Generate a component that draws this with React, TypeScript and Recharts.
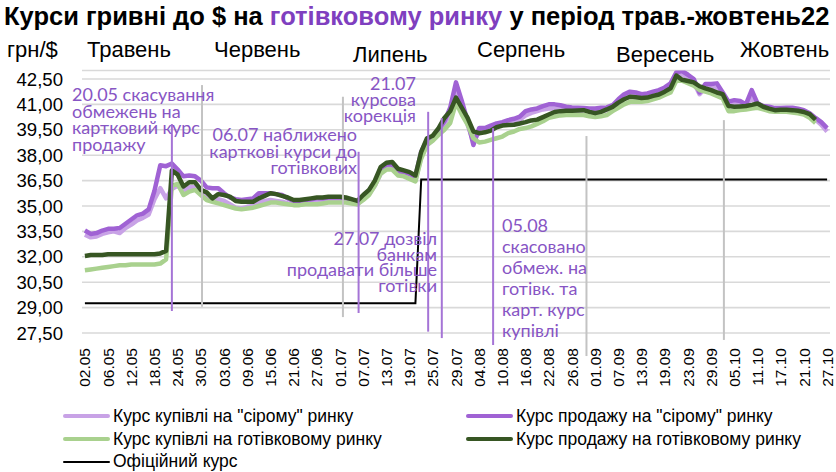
import React from "react";
import { LineChart, Line, XAxis, YAxis, CartesianGrid, ReferenceLine } from "recharts";

// working days, May - Oct 2022
const dates = [
  "02.05", "03.05", "04.05", "05.05", "06.05", "09.05", "10.05", "11.05", "12.05", "13.05",
  "16.05", "17.05", "18.05", "19.05", "20.05", "23.05", "24.05", "25.05", "26.05", "27.05",
  "30.05", "31.05", "01.06", "02.06", "03.06", "06.06", "07.06", "08.06", "09.06", "10.06",
  "13.06", "14.06", "15.06", "16.06", "17.06", "20.06", "21.06", "22.06", "23.06", "24.06",
  "27.06", "28.06", "29.06", "30.06", "01.07", "04.07", "05.07", "06.07", "07.07", "08.07",
  "11.07", "12.07", "13.07", "14.07", "15.07", "18.07", "19.07", "20.07", "21.07", "22.07",
  "25.07", "26.07", "27.07", "28.07", "29.07", "01.08", "02.08", "03.08", "04.08", "05.08",
  "08.08", "09.08", "10.08", "11.08", "12.08", "15.08", "16.08", "17.08", "18.08", "19.08",
  "22.08", "23.08", "24.08", "25.08", "26.08", "29.08", "30.08", "31.08", "01.09", "02.09",
  "05.09", "06.09", "07.09", "08.09", "09.09", "12.09", "13.09", "14.09", "15.09", "16.09",
  "19.09", "20.09", "21.09", "22.09", "23.09", "26.09", "27.09", "28.09", "29.09", "30.09",
  "03.10", "04.10", "05.10", "06.10", "07.10", "10.10", "11.10", "12.10", "13.10", "14.10",
  "17.10", "18.10", "19.10", "20.10", "21.10", "24.10", "25.10", "26.10", "27.10",
];

const tickDates = [
  "02.05", "06.05", "12.05", "18.05", "24.05", "30.05", "03.06", "09.06", "15.06", "21.06", "27.06",
  "01.07", "07.07", "13.07", "19.07", "25.07", "29.07", "04.08", "10.08", "16.08", "22.08", "26.08",
  "01.09", "07.09", "13.09", "19.09", "23.09", "29.09", "05.10", "11.10", "17.10", "21.10", "27.10",
];

const yTicks = [27.5, 29, 30.5, 32, 33.5, 35, 36.5, 38, 39.5, 41, 42.5];

// курс купівлі на "сірому" ринку
const greyBuy = [
  33.3, 33.15, 33.2, 33.35, 33.45, 33.5, 33.4, 33.7, 33.9, 34.15,
  34.3, 34.5, 35.4, 36.05, 35.45, 36.0, 36.2, 35.9, 36.1, 36.1,
  35.9, 35.4, 35.3, 35.4, 35.3, 35.1, 34.9, 34.85, 34.95, 35.0,
  35.2, 35.3, 35.35, 35.3, 35.25, 35.15, 35.1, 35.1, 35.15, 35.2,
  35.2, 35.25, 35.3, 35.3, 35.3, 35.3, 35.2, 35.1, 35.4, 35.7,
  36.2, 36.9, 37.25, 37.3, 36.9, 36.85, 36.7, 36.5, 37.9, 38.6,
  38.9, 39.3, 39.8, 40.5, 42.0, 41.0, 39.8, 38.8, 39.4, 39.45,
  39.6, 39.75, 39.85, 39.95, 40.0, 40.1, 40.35, 40.5, 40.6, 40.7,
  40.75, 40.76, 40.75, 40.7, 40.66, 40.66, 40.66, 40.6, 40.55, 40.6,
  40.65, 40.8, 41.1, 41.4, 41.6, 41.55, 41.5, 41.5, 41.6, 41.7,
  41.85, 42.05, 42.7, 42.8, 42.55, 42.3, 41.6, 42.0, 42.0, 41.95,
  41.5, 41.0, 41.0, 41.0, 40.9, 41.4, 40.95, 40.8, 40.75, 40.7,
  40.7, 40.7, 40.7, 40.65, 40.55, 40.4, 40.1, 39.8, 39.4,
];

// курс продажу на "сірому" ринку
const greySell = [
  33.55, 33.35, 33.4, 33.55, 33.65, 33.65, 33.7, 33.95, 34.2, 34.45,
  34.55, 34.8, 35.9, 37.4, 37.35, 37.5, 37.15, 36.75, 36.8, 36.75,
  36.5, 36.1, 36.05, 36.05, 35.75, 35.5, 35.4, 35.35, 35.4, 35.45,
  35.75, 35.75, 35.75, 35.7, 35.65, 35.45, 35.3, 35.3, 35.35, 35.4,
  35.45, 35.45, 35.5, 35.5, 35.5, 35.45, 35.35, 35.25, 35.6, 35.9,
  36.4, 37.1, 37.45, 37.45, 37.05, 37.0, 36.9, 36.75, 38.2, 38.9,
  39.1, 39.5, 40.0, 40.8, 42.3, 41.2, 40.0, 38.6, 39.6, 39.6,
  39.75, 39.88, 39.95, 40.07, 40.15, 40.27, 40.6, 40.7, 40.76, 40.9,
  41.0, 41.0, 40.95, 40.86, 40.82, 40.8, 40.78, 40.76, 40.76, 40.8,
  40.82, 40.95, 41.3, 41.6, 41.75, 41.7, 41.6, 41.65, 41.75, 41.84,
  42.0, 42.24, 42.9, 42.97, 42.75, 42.5, 41.7, 42.2, 42.2, 42.24,
  41.7, 41.16, 41.25, 41.2, 41.0, 41.84, 41.06, 40.9, 40.86, 40.78,
  40.78, 40.8, 40.8, 40.74, 40.65, 40.47, 40.2, 39.95, 39.6,
];

// курс купівлі на готівковому ринку
const cashBuy = [
  31.2, 31.25, 31.3, 31.35, 31.4, 31.45, 31.5, 31.5, 31.55, 31.55,
  31.55, 31.55, 31.55, 31.6, 31.85, 36.2, 36.3, 35.65, 35.85, 35.95,
  35.65, 35.35, 35.25, 35.15, 35.05, 34.95, 34.85, 34.8, 34.85, 34.9,
  35.0, 35.1, 35.2, 35.2, 35.15, 35.1, 35.05, 35.05, 35.1, 35.1,
  35.1, 35.15, 35.2, 35.2, 35.2, 35.2, 35.15, 35.1, 35.35, 35.65,
  36.2, 36.9, 37.15, 37.15, 36.8, 36.75, 36.6, 36.45, 37.8, 38.6,
  38.85, 39.2, 39.5, 39.9, 41.1, 40.4, 39.8, 39.0, 38.75, 38.8,
  38.9, 39.0, 39.1, 39.3, 39.4, 39.55, 39.6, 39.7, 39.85, 40.0,
  40.2, 40.28, 40.35, 40.37, 40.37, 40.37, 40.37, 40.3, 40.25, 40.3,
  40.37, 40.6, 40.8, 41.0, 41.15, 41.15, 41.15, 41.2, 41.3, 41.4,
  41.55, 41.7, 42.4, 42.4, 42.25, 42.1, 41.85, 41.75, 41.65, 41.5,
  41.35, 40.6, 40.6, 40.66, 40.7, 40.76, 40.8, 40.7, 40.6, 40.56,
  40.56, 40.56, 40.52, 40.47, 40.4, 40.2, 39.9,
];

// курс продажу на готівковому ринку
const cashSell = [
  32.05, 32.1, 32.1, 32.1, 32.15, 32.15, 32.15, 32.15, 32.15, 32.15,
  32.15, 32.15, 32.15, 32.2, 32.35, 37.1, 36.85, 36.15, 36.4, 36.4,
  35.95, 35.8, 35.45, 35.7, 35.65, 35.55, 35.3, 35.25, 35.25, 35.25,
  35.45, 35.6, 35.75, 35.7, 35.6, 35.5, 35.35, 35.35, 35.4, 35.45,
  35.5, 35.5, 35.55, 35.55, 35.55, 35.5, 35.4, 35.3, 35.65, 35.95,
  36.5, 37.3, 37.55, 37.6, 37.2, 37.1, 37.0, 36.8, 38.2, 39.0,
  39.15, 39.6, 40.2, 40.6, 41.4, 40.8, 40.2, 39.4, 39.3, 39.35,
  39.45, 39.65, 39.75, 39.78, 39.8, 39.87, 39.95, 40.05, 40.1, 40.25,
  40.4, 40.55, 40.6, 40.62, 40.62, 40.64, 40.66, 40.56, 40.48, 40.56,
  40.7, 40.85, 41.1, 41.3, 41.45, 41.42, 41.38, 41.4, 41.5, 41.58,
  41.75, 41.95, 42.7, 42.45, 42.38, 42.3, 42.07, 41.95, 41.84, 41.7,
  41.6, 40.9, 40.86, 40.88, 40.9, 40.97, 41.05, 40.86, 40.75, 40.66,
  40.68, 40.68, 40.66, 40.62, 40.55, 40.42, 40.1,
];

// офіційний курс НБУ (фіксований)
const officialRate: Record<string, number> = {
  "02.05": 29.2549,
  "20.07": 29.2549,
  "21.07": 36.5686,
  "27.10": 36.5686,
};

const data = dates.map((date, i) => ({
  i,
  date,
  greyBuy: greyBuy[i] ?? null,
  greySell: greySell[i] ?? null,
  cashBuy: cashBuy[i] ?? null,
  cashSell: cashSell[i] ?? null,
  official: officialRate[date] ?? null,
}));

const tickIdx = tickDates.map((d) => dates.indexOf(d));

const PURPLE_TXT = "#8755c4";
const PURPLE_LINE = "#a574d6";
const GRAY_LINE = "#c3c3c3";

// annotation strokes, in axis units (day index / UAH)
const markers = [
  { x: 15.0, y1: 39.84, y2: 28.8, color: PURPLE_LINE },
  { x: 47.2, y1: 38.2, y2: 28.68, color: PURPLE_LINE },
  { x: 59.2, y1: 40.56, y2: 27.58, color: PURPLE_LINE },
  { x: 61.55, y1: 40.19, y2: 27.2, color: PURPLE_LINE },
  { x: 70.4, y1: 39.6, y2: 26.79, color: PURPLE_LINE },
  { x: 20.2, y1: 42.14, y2: 29.05, color: GRAY_LINE },
  { x: 44.5, y1: 41.45, y2: 28.44, color: GRAY_LINE },
  { x: 86.5, y1: 39.13, y2: 26.14, color: GRAY_LINE },
  { x: 110.2, y1: 40.07, y2: 27.09, color: GRAY_LINE },
];

const notes = [
  { text: "20.05 скасування\nобмежень на\nкартковий курс\nпродажу", left: 72, top: 86, align: "left", lh: 16.6 },
  { text: "06.07 наближено\nкарткові курси до\nготівкових", right: 357, top: 126, align: "right", lh: 16.6 },
  { text: "21.07\nкурсова\nкорекція", right: 416, top: 75, align: "right", lh: 16 },
  { text: "27.07 дозвіл\nбанкам\nпродавати більше\nготівки", right: 437, top: 231, align: "right", lh: 15.6 },
  { text: "05.08\nскасовано\nобмеж. на\nготівк. та\nкарт. курс\nкупівлі", left: 502, top: 215, align: "left", lh: 21 },
];

const months = [
  { label: "грн/$", left: 7, top: 50 },
  { label: "Травень", left: 87, top: 50 },
  { label: "Червень", left: 214, top: 50 },
  { label: "Липень", left: 353, top: 55 },
  { label: "Серпень", left: 477, top: 50 },
  { label: "Вересень", left: 616, top: 55 },
  { label: "Жовтень", left: 740, top: 50 },
];

const legendItems = [
  { name: 'Курс купівлі на "сірому" ринку', color: "#c8a2e6", w: 4, left: 63, top: 416 },
  { name: 'Курс продажу на "сірому" ринку', color: "#a062d4", w: 4, left: 466, top: 416 },
  { name: "Курс купівлі на готівковому ринку", color: "#a9d18e", w: 4, left: 63, top: 439 },
  { name: "Курс продажу на готівковому ринку", color: "#375623", w: 4, left: 466, top: 439 },
  { name: "Офіційний курс", color: "#000000", w: 2, left: 63, top: 461.5 },
];

const SANS = "'Liberation Sans', Arial, sans-serif";
const NARROW = "'Liberation Sans Narrow', 'Liberation Sans', Arial, sans-serif";

const XTick = (props: any) => {
  const { x, y, payload } = props;
  return (
    <text
      transform={`translate(${x},${y + 15}) rotate(-90)`}
      textAnchor="end"
      dy="0.36em"
      fontSize={15.5}
      fontFamily={SANS}
      fill="#000"
    >
      {dates[payload.value]}
    </text>
  );
};

const YTick = (props: any) => {
  const { x, y, payload } = props;
  return (
    <text x={x} y={y} dy="0.36em" textAnchor="end" fontSize={18.6} fontFamily={SANS} fill="#000">
      {payload.value.toFixed(2).replace(".", ",")}
    </text>
  );
};

export default function App() {
  return (
    <div style={{ position: "absolute", left: 0, top: 0, width: 836, height: 472, background: "#fff", overflow: "hidden" }}>
      <div
        style={{
          position: "absolute", left: 4, top: 2, fontFamily: NARROW, fontWeight: "bold",
          fontSize: 25.5, lineHeight: "28px", whiteSpace: "nowrap", color: "#000",
        }}
      >
        Курси гривні до $ на <span style={{ color: "#7f3fbf" }}>готівковому ринку</span> у період трав.-жовтень22
      </div>

      {months.map((m) => (
        <div
          key={m.label}
          style={{
            position: "absolute", left: m.left, top: m.top - 12, lineHeight: "24px",
            fontFamily: NARROW, fontSize: 22, whiteSpace: "nowrap", color: "#000",
          }}
        >
          {m.label}
        </div>
      ))}

      <LineChart
        width={836}
        height={472}
        data={data}
        margin={{ top: 70.5, right: 6, bottom: 89, left: 12 }}
      >
        <CartesianGrid horizontal vertical={false} stroke="#d9d9d9" strokeWidth={1.6} />
        <XAxis
          type="number"
          dataKey="i"
          domain={[-0.5, 128.5]}
          ticks={tickIdx}
          interval={0}
          tick={<XTick />}
          tickLine={false}
          axisLine={false}
          tickSize={0}
          tickMargin={0}
          height={50}
        />
        <YAxis
          type="number"
          domain={[27.5, 43]}
          ticks={yTicks}
          interval={0}
          tick={<YTick />}
          tickLine={false}
          axisLine={false}
          tickSize={0}
          tickMargin={19}
          width={70}
          allowDataOverflow
        />
        <Line dataKey="greyBuy" stroke="#c8a2e6" strokeWidth={4.5} strokeLinejoin="round" dot={false} isAnimationActive={false} />
        <Line dataKey="greySell" stroke="#a062d4" strokeWidth={4.5} strokeLinejoin="round" dot={false} isAnimationActive={false} />
        <Line dataKey="cashBuy" stroke="#a9d18e" strokeWidth={4.5} strokeLinejoin="round" dot={false} isAnimationActive={false} />
        <Line dataKey="cashSell" stroke="#375623" strokeWidth={4.5} strokeLinejoin="round" dot={false} isAnimationActive={false} />
        <Line dataKey="official" stroke="#000" strokeWidth={2} connectNulls dot={false} isAnimationActive={false} />
        {markers.map((m, k) => (
          <ReferenceLine
            key={k}
            segment={[{ x: m.x, y: m.y1 }, { x: m.x, y: m.y2 }]}
            stroke={m.color}
            strokeWidth={2}
            ifOverflow="visible"
          />
        ))}
      </LineChart>

      {notes.map((n, k) => (
        <div
          key={k}
          style={{
            position: "absolute",
            top: n.top,
            ...(n.align === "left" ? { left: n.left } : { right: 836 - (n.right as number) }),
            textAlign: n.align as any,
            whiteSpace: "pre",
            fontFamily: "Lato, 'Open Sans', sans-serif",
            fontSize: 18,
            lineHeight: `${n.lh}px`,
            color: PURPLE_TXT,
          }}
        >
          {n.text}
        </div>
      ))}

      {legendItems.map((it) => (
        <div
          key={it.name}
          style={{
            position: "absolute", left: it.left, top: it.top - 10, height: 20,
            display: "flex", alignItems: "center", whiteSpace: "nowrap",
            fontFamily: SANS, fontSize: 17.5, color: "#000",
          }}
        >
          <span style={{ display: "inline-block", width: 47, height: it.w, background: it.color, marginRight: 3, borderRadius: 2 }} />
          {it.name}
        </div>
      ))}
    </div>
  );
}
